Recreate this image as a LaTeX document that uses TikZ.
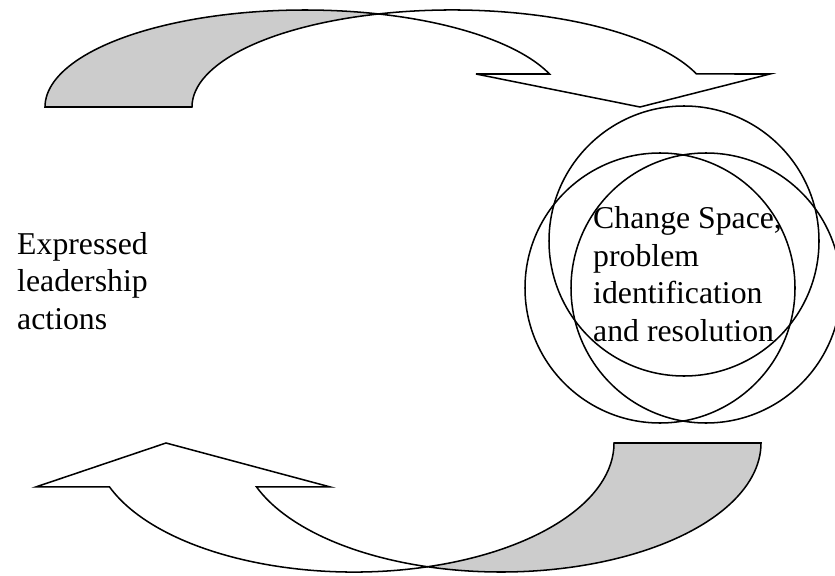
\documentclass[tikz,border=0pt]{standalone}
\usepackage{fontspec}
\setmainfont{Liberation Serif}
\usetikzlibrary{positioning}

\definecolor{bandgrey}{HTML}{CCCCCC}

\tikzset{
  outline/.style={draw=black, line width=1.3pt},
  backband/.style={outline, fill=bandgrey},
  frontband/.style={outline, fill=white},
  ring/.style={draw=black, line width=1.3pt},
  words/.style={inner sep=0pt, align=left, font=\fontsize{27.1pt}{32pt}\selectfont},
  pics/curvedarrow/.style={code={
    % back part, shaded
    \path[backband] (0,0) arc[start angle=180, end angle=73.58, x radius=260, y radius=97]
      arc[start angle=106.42, end angle=180, x radius=260, y radius=97] -- cycle;
    % front part with the head
    \path[frontband] (333.5,93.06) arc[start angle=106.42, end angle=19.89, x radius=260, y radius=97]
      -- (725,33) -- (595,0) -- (431,33) -- (504.5,33)
      arc[start angle=19.89, end angle=73.58, x radius=260, y radius=97] -- cycle;
  }}
}

\begin{document}
\begin{tikzpicture}[x=0.03cm, y=0.03cm]
  \useasboundingbox (0,0) rectangle (835,575);
  \clip (0,0) rectangle (835,575);

  % curved arrows
  \pic (toparrow) at (45,468) {curvedarrow};
  \pic[rotate=180, yscale=1.33] (bottomarrow) at (761,132) {curvedarrow};

  % circles
  \draw[ring] (684,334) circle[radius=135];
  \draw[ring] (660,287) circle[radius=135];
  \draw[ring] (706,287) circle[radius=135];

  % Labels (base = last line)
  \node[words, anchor=base west] (actions) at (17,246) {Expressed\\leadership\\actions};
  \node[words, anchor=base west] (space) at (593,234) {Change Space,\\problem\\identification\\and resolution};

\end{tikzpicture}
\end{document}
